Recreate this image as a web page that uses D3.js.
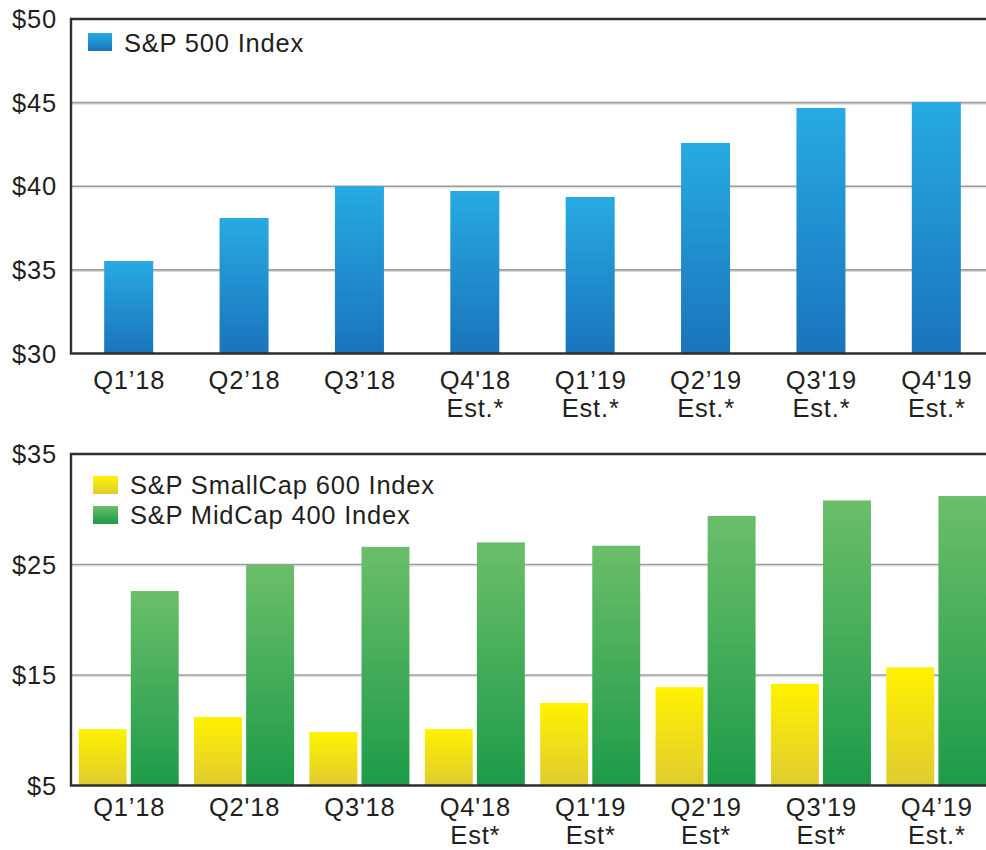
<!DOCTYPE html>
<html>
<head>
<meta charset="utf-8">
<script src="https://cdn.jsdelivr.net/npm/d3@7"></script>
<style>
  body { margin: 0; background: #fff; }
  svg text { font-family: "Liberation Sans", Arial, Helvetica, sans-serif; fill: #231f20; font-size: 25.5px; letter-spacing: 0.8px; }
</style>
</head>
<body>
<svg id="chart" width="986" height="850"></svg>
<script>
// quarter labels (first line / second line), top chart and bottom chart
const topQuarters = ["Q1\u201918", "Q2\u201918", "Q3\u201918", "Q4'18", "Q1\u201919", "Q2\u201919", "Q3'19", "Q4'19"]
const topSub = ["", "", "", "Est.*", "Est.*", "Est.*", "Est.*", "Est.*"]
const botQuarters = ["Q1\u201918", "Q2'18", "Q3'18", "Q4'18", "Q1'19", "Q2'19", "Q3'19", "Q4\u201919"]
const botSub = ["", "", "", "Est*", "Est*", "Est*", "Est*", "Est.*"]

// earnings per share values
const sp500 = [35.53, 38.1, 40.0, 39.72, 39.36, 42.59, 44.68, 45.04]
const smallCap600 = [10.1, 11.2, 9.84, 10.1, 12.47, 13.9, 14.2, 15.7]
const midCap400 = [22.6, 24.95, 26.6, 27.0, 26.7, 29.4, 30.8, 31.2]

const topTicks = [30, 35, 40, 45, 50]
const botTicks = [5, 15, 25, 35]

const svg = d3.select("#chart")
const defs = svg.append("defs")

function addGradient(id, top, bottom) {
  const g = defs.append("linearGradient")
    .attr("id", id)
    .attr("x1", 0).attr("y1", 0)
    .attr("x2", 0).attr("y2", 1)
  g.append("stop").attr("offset", "0%").attr("stop-color", top)
  g.append("stop").attr("offset", "100%").attr("stop-color", bottom)
}
addGradient("gBlue", "#27aae2", "#1a74bb")
addGradient("gYellow", "#fff200", "#e0cb31")
addGradient("gGreen", "#6bbe6a", "#1d9b48")

const left = 71
const right = 994

// gridlines and y labels for one panel
function drawPanel(y, ticks) {
  const g = svg.append("g")
  const inner = ticks.slice(1, ticks.length - 1)
  g.selectAll("line.shadow")
    .data(inner)
    .enter()
    .append("line")
    .attr("x1", left).attr("x2", right)
    .attr("y1", function (d) { return y(d) + 1.5 })
    .attr("y2", function (d) { return y(d) + 1.5 })
    .attr("stroke", "#dadada")
    .attr("stroke-width", 1.2)
  g.selectAll("line.grid")
    .data(inner)
    .enter()
    .append("line")
    .attr("x1", left).attr("x2", right)
    .attr("y1", function (d) { return y(d) })
    .attr("y2", function (d) { return y(d) })
    .attr("stroke", "#9c9c9c")
    .attr("stroke-width", 1.6)
  g.selectAll("text")
    .data(ticks)
    .enter()
    .append("text")
    .attr("x", 57)
    .attr("y", function (d) { return y(d) + 9 })
    .attr("text-anchor", "end")
    .text(function (d) { return "$" + d })
  return g
}

function drawFrame(y, ticks) {
  const top = y(ticks[ticks.length - 1])
  const bottom = y(ticks[0])
  svg.append("path")
    .attr("d", "M" + right + "," + top + "H" + left + "V" + bottom + "H" + right)
    .attr("fill", "none")
    .attr("stroke", "#2e2e2e")
    .attr("stroke-width", 2.4)
}

function drawXLabels(x, names, subs, base) {
  const g = svg.append("g")
  g.selectAll("text.q")
    .data(names)
    .enter()
    .append("text")
    .attr("x", function (d, i) { return x(i) + x.bandwidth() / 2 + 0.5 })
    .attr("y", base)
    .attr("text-anchor", "middle")
    .text(function (d) { return d })
  g.selectAll("text.s")
    .data(subs)
    .enter()
    .append("text")
    .attr("x", function (d, i) { return x(i) + x.bandwidth() / 2 + 0.5 })
    .attr("y", base + 28)
    .attr("text-anchor", "middle")
    .text(function (d) { return d })
}

// ---- top chart: S&P 500
const yTop = d3.scaleLinear().domain([30, 50]).range([353.5, 19])
const xTop = d3.scaleBand()
  .domain(d3.range(sp500.length))
  .range([left, right])
  .paddingInner(0.575)
  .paddingOuter(0.2875)

drawPanel(yTop, topTicks)

svg.append("g")
  .selectAll("rect")
  .data(sp500)
  .enter()
  .append("rect")
  .attr("x", function (d, i) { return xTop(i) })
  .attr("y", function (d) { return yTop(d) })
  .attr("width", xTop.bandwidth())
  .attr("height", function (d) { return yTop(30) - yTop(d) })
  .attr("fill", "url(#gBlue)")

drawFrame(yTop, topTicks)
drawXLabels(xTop, topQuarters, topSub, 389)

const legTop = svg.append("g")
legTop.append("rect").attr("x", 88).attr("y", 33).attr("width", 24).attr("height", 18).attr("fill", "url(#gBlue)")
legTop.append("text").attr("x", 124).attr("y", 52).text("S&P 500 Index")

// ---- bottom chart: SmallCap 600 and MidCap 400
const yBot = d3.scaleLinear().domain([5, 35]).range([785.5, 454])
const xBot = d3.scaleBand()
  .domain(d3.range(midCap400.length))
  .range([left, right])
  .paddingInner(0.133)
  .paddingOuter(0.0665)
const xSeries = d3.scaleBand()
  .domain(["small", "mid"])
  .range([0, xBot.bandwidth()])
  .paddingInner(0.08)

drawPanel(yBot, botTicks)

const series = [
  { key: "small", values: smallCap600, fill: "url(#gYellow)" },
  { key: "mid", values: midCap400, fill: "url(#gGreen)" }
]

series.forEach(function (s) {
  svg.append("g")
    .selectAll("rect")
    .data(s.values)
    .enter()
    .append("rect")
    .attr("x", function (d, i) { return xBot(i) + xSeries(s.key) })
    .attr("y", function (d) { return yBot(d) })
    .attr("width", xSeries.bandwidth())
    .attr("height", function (d) { return yBot(5) - yBot(d) })
    .attr("fill", s.fill)
})

drawFrame(yBot, botTicks)
// labels sit a touch higher so the second line stays inside the 850px page
drawXLabels(xBot, botQuarters, botSub, 816)

const legBot = svg.append("g")
legBot.append("rect").attr("x", 93).attr("y", 476).attr("width", 25).attr("height", 18).attr("fill", "url(#gYellow)")
legBot.append("text").attr("x", 130).attr("y", 494).text("S&P SmallCap 600 Index")
legBot.append("rect").attr("x", 93).attr("y", 506).attr("width", 25).attr("height", 18).attr("fill", "url(#gGreen)")
legBot.append("text").attr("x", 130).attr("y", 524).text("S&P MidCap 400 Index")
</script>
</body>
</html>
